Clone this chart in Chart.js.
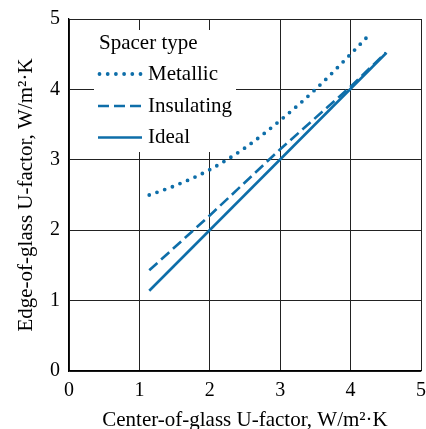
<!DOCTYPE html>
<html>
<head>
<meta charset="utf-8">
<script src="https://cdn.jsdelivr.net/npm/chart.js@4/dist/chart.umd.min.js"></script>
<style>
  html, body { margin: 0; padding: 0; background: #fff; }
  #wrap { width: 426px; height: 429px; }
</style>
</head>
<body>
<div id="wrap"><canvas id="c" width="426" height="429"></canvas></div>
<script>
// ---- data ----
const seriesNames = ["Metallic", "Insulating", "Ideal"];
const metallicX = [1.14, 1.5, 2.0, 2.5, 3.0, 3.5, 4.0, 4.24];
const metallicY = [2.50, 2.63, 2.86, 3.17, 3.56, 4.00, 4.50, 4.75];
const insulatingX = [1.14, 2.0, 3.0, 4.0, 4.5];
const insulatingY = [1.43, 2.21, 3.15, 4.04, 4.52];
const idealX = [1.14, 4.51];
const idealY = [1.14, 4.52];
const xTicks = [0, 1, 2, 3, 4, 5];
const yTicks = [0, 1, 2, 3, 4, 5];
const legendTitle = "Spacer type";
const xTitle = "Center-of-glass U-factor, W/m\u00B2\u00B7K";
const yTitle = "Edge-of-glass U-factor, W/m\u00B2\u00B7K";

const BLUE = '#0e6ea9';
const FONT = 'Liberation Serif';

function pts(xs, ys) { return xs.map((x, i) => ({ x: x, y: ys[i] })); }

const styles = [
  { borderDash: [0, 8.2], borderWidth: 3.8, borderCapStyle: 'round' },
  { borderDash: [11, 5], borderWidth: 2.6, borderCapStyle: 'butt' },
  { borderDash: [], borderWidth: 2.6, borderCapStyle: 'butt' }
];
const dataSets = [pts(metallicX, metallicY), pts(insulatingX, insulatingY), pts(idealX, idealY)];

const legendPlugin = {
  id: 'insideLegend',
  afterDraw(chart) {
    const ctx = chart.ctx;
    ctx.save();
    ctx.fillStyle = '#fff';
    ctx.fillRect(94, 30, 142, 122);
    ctx.fillStyle = '#000';
    ctx.font = '21px "' + FONT + '"';
    ctx.textBaseline = 'alphabetic';
    ctx.textAlign = 'left';
    ctx.fillText(legendTitle, 99, 48.5);
    const rows = [74, 106, 137.5];
    const base = [80, 111.5, 143];
    chart.data.datasets.forEach((ds, i) => {
      ctx.beginPath();
      ctx.strokeStyle = ds.borderColor;
      ctx.lineWidth = ds.borderWidth;
      ctx.lineCap = ds.borderCapStyle;
      ctx.setLineDash(ds.borderDash);
      if (i === 0) { ctx.moveTo(99.5, rows[i]); ctx.lineTo(142, rows[i]); }
      else { ctx.moveTo(98, rows[i]); ctx.lineTo(142, rows[i]); }
      ctx.stroke();
      ctx.setLineDash([]);
      ctx.fillStyle = '#000';
      ctx.fillText(ds.label, 148, base[i]);
    });
    ctx.restore();
  }
};

new Chart(document.getElementById('c'), {
  type: 'line',
  data: {
    datasets: dataSets.map((d, i) => Object.assign({
      label: seriesNames[i],
      data: d,
      borderColor: BLUE,
      backgroundColor: BLUE,
      pointRadius: 0,
      fill: false,
      tension: 0,
      cubicInterpolationMode: i === 0 ? 'monotone' : 'default'
    }, styles[i]))
  },
  options: {
    responsive: false,
    animation: false,
    devicePixelRatio: 1,
    layout: { padding: { left: 0, right: 5, top: 19, bottom: 0 } },
    plugins: { legend: { display: false }, tooltip: { enabled: false } },
    scales: {
      x: {
        type: 'linear', min: 0, max: 5,
        afterBuildTicks: s => { s.ticks = xTicks.map(v => ({ value: v })); },
        afterFit: s => { s.height = 58; s.paddingLeft = 0; s.paddingRight = 0; },
        ticks: { color: '#000', font: { family: FONT, size: 20 }, padding: 8, maxRotation: 0 },
        grid: { color: '#222', lineWidth: 1, drawTicks: false },
        border: { color: '#000', width: 1.3 },
        title: { display: true, text: xTitle, color: '#000', font: { family: FONT, size: 21, lineHeight: 0.8 }, padding: 0 }
      },
      y: {
        type: 'linear', min: 0, max: 5,
        afterBuildTicks: s => { s.ticks = yTicks.map(v => ({ value: v })); },
        afterFit: s => { s.width = 69; s.paddingTop = 0; s.paddingBottom = 0; },
        ticks: { color: '#000', font: { family: FONT, size: 20 }, padding: 9 },
        grid: { color: '#222', lineWidth: 1, drawTicks: false },
        border: { color: '#000', width: 1.3 },
        title: { display: true, text: yTitle, color: '#000', font: { family: FONT, size: 21, lineHeight: 1 }, padding: { top: 16, bottom: 0 } }
      }
    }
  },
  plugins: [legendPlugin]
});
</script>
</body>
</html>
